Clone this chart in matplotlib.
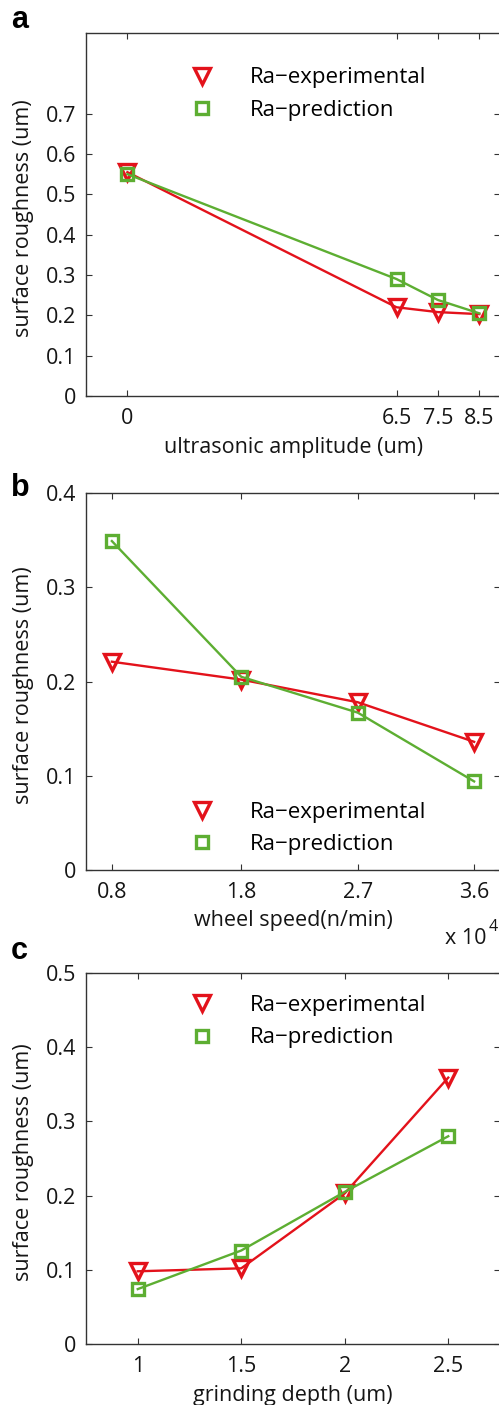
import matplotlib
matplotlib.use("Agg")
import matplotlib.pyplot as plt
from matplotlib.lines import Line2D

plt.rcParams['font.family'] = ['Open Sans', 'DejaVu Sans']

red = "#e3121b"
green = "#5dae32"

# panel a
amp = [0, 6.5, 7.5, 8.5]
amp_exp = [0.555, 0.220, 0.208, 0.203]
amp_pred = [0.550, 0.290, 0.238, 0.205]

# panel b (x 10^4)
speed = [0.8, 1.8, 2.7, 3.6]
speed_exp = [0.221, 0.202, 0.178, 0.136]
speed_pred = [0.349, 0.205, 0.167, 0.094]

# panel c
depth = [1, 1.5, 2, 2.5]
depth_exp = [0.098, 0.102, 0.203, 0.359]
depth_pred = [0.074, 0.126, 0.205, 0.280]

W, H = 499, 1405
fig = plt.figure(figsize=(W / 100, H / 100), dpi=100)
txt = '#151515'

def axes_px(left, top, right, bottom):
    return fig.add_axes([left / W, 1 - bottom / H, (right - left) / W, (bottom - top) / H])

def panel(ax, x, ye, yp, xlim, ylim, yticks, xlabel, xlab_y, leg_loc, leg_anchor):
    ax.plot(x, ye, color=red, lw=1.7, marker='v', ms=11.5, mfc='none', mew=2.4)
    ax.plot(x, yp, color=green, lw=1.7, marker='s', ms=8, mfc='none', mew=2.4)
    ax.set_xlim(xlim)
    ax.set_ylim(ylim)
    ax.set_xticks(x)
    ax.set_xticklabels([f"{t:g}" for t in x])
    ax.set_yticks(yticks)
    ax.set_yticklabels([f"{t:g}" for t in yticks])
    ax.tick_params(direction='in', length=4, width=0.8, top=True, right=True,
                   labelsize=15.5, pad=7, colors='#333333', labelcolor=txt)
    ax.tick_params(axis='x', pad=9)
    for s in ax.spines.values():
        s.set_color('#333333')
        s.set_linewidth(1.0)
    ax.set_xlabel(xlabel, fontsize=15.5, color=txt)
    ax.set_ylabel('surface roughness (um)', fontsize=15.5, color=txt)
    ax.yaxis.set_label_coords(-0.125, 0.49)
    ax.xaxis.set_label_coords(0.5, xlab_y)
    handles = [Line2D([], [], ls='none', marker='v', ms=11.5, mfc='none', mew=2.4, color=red),
               Line2D([], [], ls='none', marker='s', ms=8, mfc='none', mew=2.4, color=green)]
    ax.legend(handles, ['Ra\u2212experimental', 'Ra\u2212prediction'], loc=leg_loc,
              bbox_to_anchor=leg_anchor, frameon=False, fontsize=16, borderpad=0,
              borderaxespad=0, handlelength=1.5, handletextpad=1.4, labelspacing=0.5)

ax_a = axes_px(86, 33, 500, 396)
panel(ax_a, amp, amp_exp, amp_pred, (-1, 9), (0, 0.9),
      [0, 0.1, 0.2, 0.3, 0.4, 0.5, 0.6, 0.7], 'ultrasonic amplitude (um)', -0.112,
      'upper left', (0.24, 0.905))

ax_b = axes_px(86, 493, 500, 870)
panel(ax_b, speed, speed_exp, speed_pred, (0.6, 3.8), (0, 0.4),
      [0, 0.1, 0.2, 0.3, 0.4], 'wheel speed(n/min)', -0.105,
      'lower left', (0.24, 0.04))
fig.text(445 / W, 1 - 939 / H, 'x 10', fontsize=15.5, color=txt, va='center', ha='left')
fig.text(489 / W, 1 - 927 / H, '4', fontsize=11.5, color=txt, va='center', ha='left')

ax_c = axes_px(86, 973, 500, 1344)
panel(ax_c, depth, depth_exp, depth_pred, (0.75, 2.75), (0, 0.5),
      [0, 0.1, 0.2, 0.3, 0.4, 0.5], 'grinding depth (um)', -0.11,
      'upper left', (0.24, 0.94))

for lab, y in [('a', 20), ('b', 488), ('c', 951)]:
    fig.text(11 / W, 1 - y / H, lab, fontsize=22, fontweight='bold', color='black',
             family=['Liberation Sans', 'DejaVu Sans'], va='center', ha='left')

fig.savefig('out.png', dpi=100)
